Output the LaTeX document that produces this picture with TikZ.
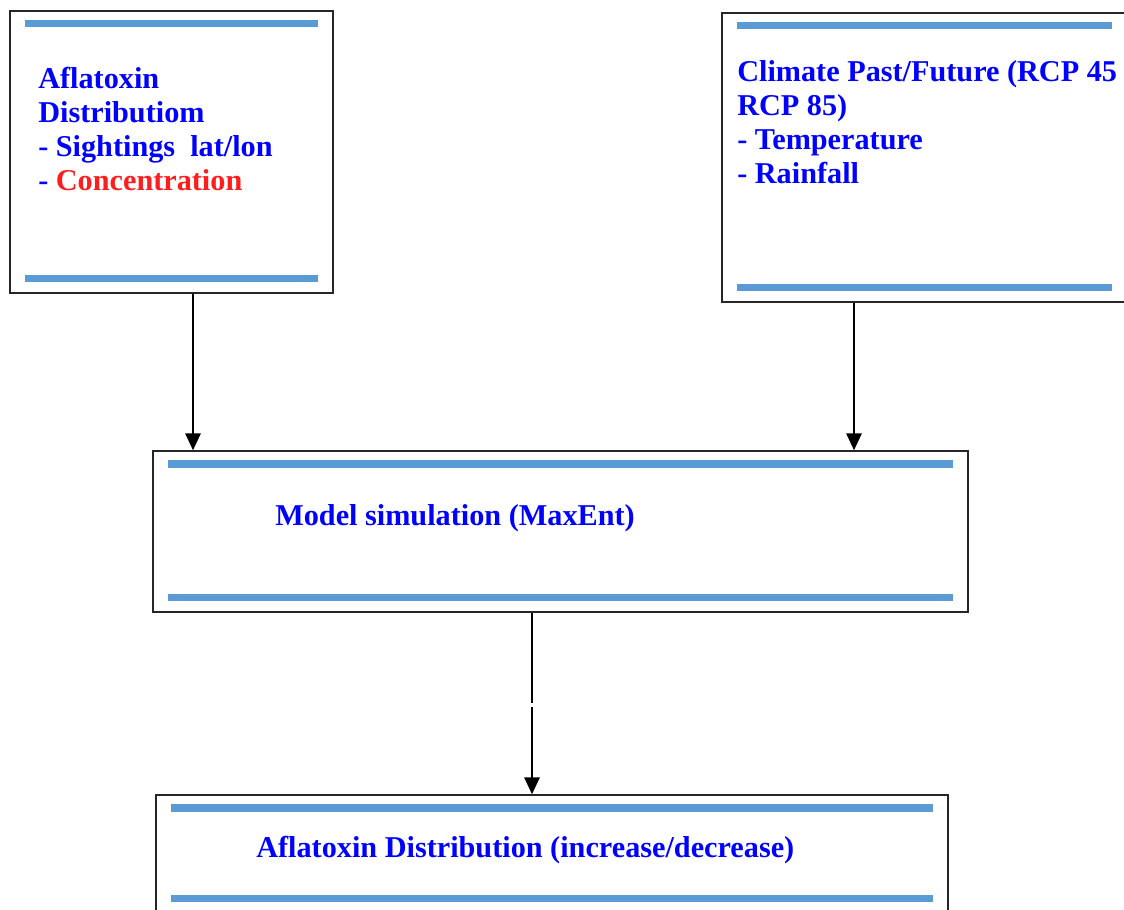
\documentclass[tikz,border=0pt]{standalone}
\usepackage{fontspec}
\setmainfont{Liberation Serif}
\usetikzlibrary{arrows.meta, positioning, calc}
\definecolor{teksbiru}{RGB}{0,0,255}
\definecolor{teksmerah}{RGB}{255,30,30}
\definecolor{garisbiru}{RGB}{91,155,213}

\begin{document}
\begin{tikzpicture}[
    x=0.025cm, y=-0.025cm,
    font=\fontsize{21.5pt}{24.2pt}\selectfont\bfseries,
    kotak/.style={draw=black!85, line width=1.1pt, inner sep=0pt,
      path picture={
        \draw[garisbiru, line width=5pt]
          ([xshift=0.375cm, yshift=-0.325cm]path picture bounding box.north west) --
          ([xshift=-0.375cm, yshift=-0.325cm]path picture bounding box.north east);
        \draw[garisbiru, line width=5pt]
          ([xshift=0.375cm, yshift=0.36cm]path picture bounding box.south west) --
          ([xshift=-0.375cm, yshift=0.36cm]path picture bounding box.south east);
      }},
    isi/.style={anchor=north west, align=left, inner sep=0pt, text=teksbiru},
    panah/.style={-{Triangle[length=12pt, width=11pt]}, line width=1.1pt}
  ]
    \clip (0,0) rectangle (1124,909);

    % kotak-kotak
    \node[kotak, minimum width=8.075cm, minimum height=7.05cm] (aflatoksin) at (171.5,152) {};
    \node[kotak, minimum width=10.125cm, minimum height=7.225cm] (iklim) at (924.5,157.5) {};
    \node[kotak, minimum width=20.375cm, minimum height=4.025cm] (model) at (560.5,531.5) {};
    \node[kotak, minimum width=19.8cm, minimum height=2.95cm] (hasil) at (552,854) {};

    % teks
    \node[isi] (teksA) at (38,67)
      {Aflatoxin\\Distributiom\\- Sightings\ \ lat/lon\\- \textcolor{teksmerah}{Concentration}};
    \node[isi] (teksB) at (737,60)
      {Climate Past/Future (RCP 45\\RCP 85)\\- Temperature\\- Rainfall};
    \node[isi, anchor=base west] (teksC) at (275,525) {Model simulation (MaxEnt)};
    \node[isi, anchor=base west] (teksD) at (256,857) {Aflatoxin Distribution (increase/decrease)};

    % panah
    \coordinate (kiri) at (193,0);
    \coordinate (kanan) at (854,0);
    \coordinate (tengah) at (532,0);
    \draw[panah] (aflatoksin.south -| kiri) -- (model.north -| kiri);
    \draw[panah] (iklim.south -| kanan) -- (model.north -| kanan);
    \draw[panah, dash pattern=on 64pt off 3pt on 400pt] (model.south -| tengah) -- (hasil.north -| tengah);
\end{tikzpicture}
\end{document}
